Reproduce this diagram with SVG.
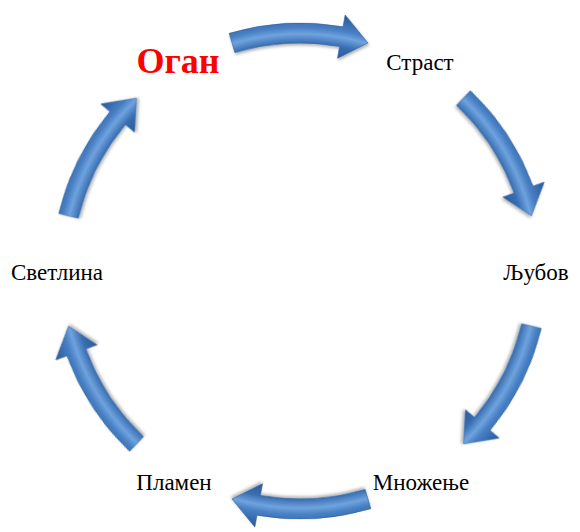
<svg xmlns="http://www.w3.org/2000/svg" width="580" height="532" viewBox="0 0 580 532">
<style>
.lbl{font-family:"Liberation Serif","Times New Roman",serif;font-size:23px;fill:#000;text-anchor:middle}
.title{font-family:"Liberation Serif","Times New Roman",serif;font-size:36px;font-weight:bold;fill:#ff0000;text-anchor:middle}
.arr{fill:url(#g);stroke:#2f5f9c;stroke-width:0.6;filter:url(#sh)}
</style>
<defs>
<radialGradient id="g" gradientUnits="userSpaceOnUse" cx="300" cy="271" r="262">
<stop offset="0.82" stop-color="#2a5896"/>
<stop offset="0.87" stop-color="#386eb2"/>
<stop offset="0.905" stop-color="#6fa3de"/>
<stop offset="0.93" stop-color="#4880c4"/>
<stop offset="0.96" stop-color="#386cb0"/>
<stop offset="1" stop-color="#285594"/>
</radialGradient>
<filter id="sh" x="-20%" y="-20%" width="140%" height="140%">
<feDropShadow dx="1" dy="2" stdDeviation="1.5" flood-color="#000" flood-opacity="0.3"/>
</filter>
<path id="a" d="M229.15,33.34 A248,248 0 0 1 343.07,26.77 L345.15,14.95 L368,42.93 L337.51,58.28 L339.59,46.46 A228,228 0 0 0 234.86,52.51 Z"/>
</defs>
<g id="connectors">
<use href="#a" class="arr"/>
<use href="#a" class="arr" transform="rotate(60 300 271)"/>
<use href="#a" class="arr" transform="rotate(120 300 271)"/>
<use href="#a" class="arr" transform="rotate(180 300 271)"/>
<use href="#a" class="arr" transform="rotate(240 300 271)"/>
<use href="#a" class="arr" transform="rotate(300 300 271)"/>
</g>
<g id="ogan"><text class="title" x="178" y="73">Оган</text></g>
<g id="strast"><text class="lbl" x="420" y="70">Страст</text></g>
<g id="ljubov"><text class="lbl" x="536" y="280">Љубов</text></g>
<g id="mnozenje"><text class="lbl" x="421" y="490">Множење</text></g>
<g id="plamen"><text class="lbl" x="174" y="490">Пламен</text></g>
<g id="svetlina"><text class="lbl" x="57" y="280">Светлина</text></g>
</svg>
